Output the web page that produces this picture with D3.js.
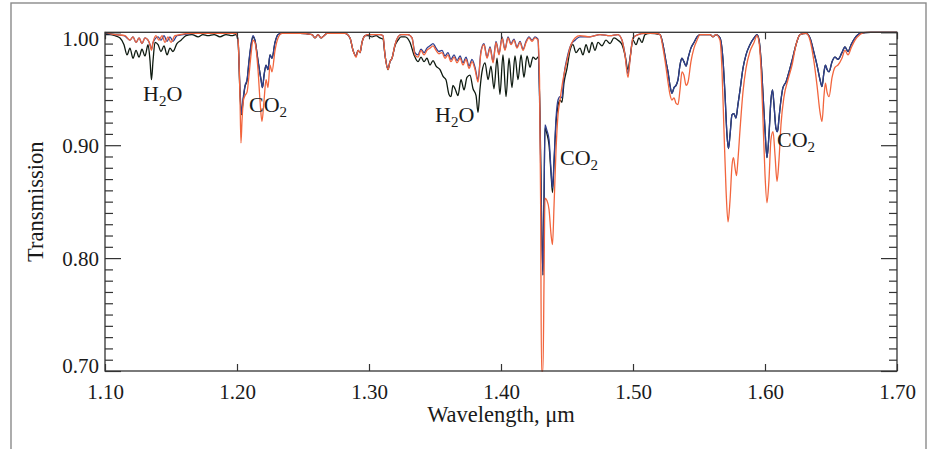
<!DOCTYPE html>
<html>
<head>
<meta charset="utf-8">
<script src="https://cdn.jsdelivr.net/npm/d3@7/dist/d3.min.js"></script>
<style>
  html, body { margin: 0; padding: 0; background: #fff; }
  svg { display: block; }
  text { font-family: "Liberation Serif", "Times New Roman", serif; fill: #1a1a1a; }
</style>
</head>
<body>
<svg id="chart" width="931" height="449"></svg>
<script>
// Transmission spectra, [wavelength (µm), transmission]
const blackSpectrum = [
  [1.1000,0.998],[1.1038,0.998],[1.1076,0.997],[1.1114,0.995],[1.1144,0.989],[1.1167,0.980],
  [1.1189,0.986],[1.1212,0.977],[1.1235,0.984],[1.1258,0.978],[1.1280,0.985],[1.1303,0.979],
  [1.1326,0.989],[1.1341,0.975],[1.1352,0.958],[1.1364,0.975],[1.1379,0.991],[1.1402,0.989],
  [1.1424,0.983],[1.1447,0.988],[1.1470,0.980],[1.1492,0.986],[1.1515,0.983],[1.1545,0.990],
  [1.1576,0.993],[1.1614,0.997],[1.1659,0.998],[1.1705,0.996],[1.1742,0.998],[1.1780,0.997],
  [1.1826,0.998],[1.1871,0.996],[1.1917,0.998],[1.1962,0.997],[1.1992,0.998],
  [1.2008,0.992],[1.2023,0.945],[1.2034,0.927],[1.2045,0.938],[1.2061,0.952],[1.2076,0.957],
  [1.2091,0.974],[1.2106,0.988],[1.2121,0.996],[1.2136,0.993],[1.2159,0.975],[1.2182,0.958],
  [1.2193,0.951],[1.2205,0.962],[1.2220,0.971],[1.2235,0.967],[1.2250,0.980],[1.2265,0.977],
  [1.2288,0.991],[1.2311,0.998],[1.2341,0.999],[1.2477,0.999],[1.2568,0.998],[1.2591,0.995],
  [1.2614,0.998],[1.2636,0.995],[1.2659,0.997],[1.2682,0.999],[1.2818,0.999],[1.2856,0.995],
  [1.2879,0.984],[1.2902,0.979],[1.2917,0.984],[1.2932,0.982],[1.2947,0.991],[1.2970,0.997],
  [1.2992,0.997],[1.3023,0.996],[1.3053,0.997],[1.3083,0.995],[1.3106,0.994],[1.3121,0.980],
  [1.3144,0.967],[1.3159,0.974],[1.3174,0.977],[1.3197,0.988],[1.3220,0.993],[1.3242,0.996],
  [1.3273,0.996],[1.3311,0.991],[1.3341,0.980],[1.3371,0.974],[1.3394,0.978],[1.3417,0.974],
  [1.3439,0.977],[1.3462,0.971],[1.3485,0.975],[1.3508,0.970],[1.3538,0.967],[1.3561,0.961],
  [1.3583,0.958],[1.3606,0.945],[1.3621,0.943],[1.3636,0.953],[1.3652,0.950],[1.3674,0.944],
  [1.3697,0.958],[1.3720,0.949],[1.3742,0.960],[1.3765,0.962],[1.3788,0.950],[1.3811,0.944],
  [1.3826,0.929],[1.3841,0.950],[1.3856,0.965],[1.3879,0.973],[1.3902,0.958],[1.3924,0.970],
  [1.3947,0.950],[1.3970,0.977],[1.3992,0.945],[1.4015,0.980],[1.4038,0.943],[1.4061,0.977],
  [1.4083,0.951],[1.4106,0.979],[1.4129,0.958],[1.4152,0.980],[1.4174,0.960],[1.4197,0.979],
  [1.4220,0.969],[1.4242,0.978],[1.4265,0.976],[1.4280,0.978],
  [1.4295,0.930],[1.4307,0.840],[1.4318,0.785],[1.4326,0.850],[1.4333,0.915],[1.4348,0.910],
  [1.4364,0.900],[1.4379,0.875],[1.4390,0.858],[1.4402,0.885],[1.4417,0.920],[1.4432,0.935],
  [1.4447,0.940],[1.4462,0.938],[1.4477,0.955],[1.4500,0.968],[1.4523,0.984],[1.4545,0.989],
  [1.4568,0.982],[1.4598,0.986],[1.4621,0.980],[1.4644,0.989],[1.4667,0.982],[1.4689,0.991],
  [1.4712,0.984],[1.4735,0.991],[1.4765,0.988],[1.4795,0.993],[1.4826,0.990],[1.4856,0.995],
  [1.4886,0.993],[1.4917,0.989],[1.4939,0.980],[1.4962,0.967],[1.4977,0.977],[1.5000,0.993],
  [1.5023,0.989],[1.5045,0.995],[1.5068,0.991],[1.5091,0.998],[1.5129,0.999],
  [1.5205,0.998],[1.5227,0.989],[1.5250,0.974],[1.5265,0.965],[1.5280,0.953],[1.5295,0.946],
  [1.5311,0.951],[1.5326,0.953],[1.5341,0.958],[1.5356,0.971],[1.5371,0.977],[1.5386,0.974],
  [1.5402,0.970],[1.5417,0.977],[1.5439,0.986],[1.5462,0.991],[1.5485,0.996],[1.5508,0.998],
  [1.5583,0.998],[1.5606,0.996],[1.5629,0.998],[1.5659,0.995],[1.5682,0.975],[1.5697,0.945],
  [1.5712,0.909],[1.5723,0.897],[1.5735,0.909],[1.5750,0.927],[1.5765,0.928],[1.5780,0.924],
  [1.5795,0.936],[1.5811,0.949],[1.5833,0.968],[1.5856,0.980],[1.5886,0.989],[1.5917,0.995],
  [1.5939,0.998],[1.5955,0.993],[1.5970,0.975],[1.5985,0.945],[1.6000,0.914],[1.6015,0.889],
  [1.6030,0.909],[1.6045,0.940],[1.6057,0.949],[1.6068,0.936],[1.6083,0.915],[1.6095,0.912],
  [1.6106,0.924],[1.6121,0.940],[1.6136,0.951],[1.6159,0.956],[1.6182,0.965],[1.6205,0.975],
  [1.6235,0.989],[1.6265,0.998],[1.6311,0.999],[1.6341,0.995],[1.6371,0.982],[1.6394,0.971],
  [1.6417,0.958],[1.6432,0.952],[1.6447,0.965],[1.6458,0.971],[1.6470,0.967],[1.6485,0.965],
  [1.6508,0.974],[1.6530,0.978],[1.6553,0.976],[1.6583,0.982],[1.6606,0.987],[1.6629,0.983],
  [1.6652,0.989],[1.6682,0.995],[1.6720,0.999],[1.6800,1.000],[1.7000,1.000]
];

const blueSpectrum = [
  [1.1000,0.999],[1.1076,0.998],[1.1144,0.997],[1.1189,0.993],[1.1212,0.996],[1.1235,0.991],
  [1.1258,0.995],[1.1280,0.990],[1.1303,0.995],[1.1326,0.993],[1.1341,0.989],[1.1352,0.985],
  [1.1364,0.991],[1.1402,0.996],[1.1424,0.993],[1.1447,0.997],[1.1470,0.992],[1.1492,0.996],
  [1.1515,0.992],[1.1545,0.997],[1.1591,0.998],[1.1700,0.999],[1.1992,0.999],
  [1.2008,0.993],[1.2023,0.949],[1.2034,0.928],[1.2045,0.940],[1.2061,0.953],[1.2076,0.958],
  [1.2091,0.975],[1.2106,0.989],[1.2121,0.997],[1.2136,0.993],[1.2159,0.975],[1.2182,0.958],
  [1.2193,0.951],[1.2205,0.962],[1.2220,0.971],[1.2235,0.967],[1.2250,0.980],[1.2265,0.977],
  [1.2288,0.991],[1.2311,0.998],[1.2341,0.999],[1.2477,0.999],[1.2568,0.998],[1.2591,0.995],
  [1.2614,0.998],[1.2636,0.995],[1.2659,0.997],[1.2682,0.999],[1.2818,0.999],[1.2856,0.995],
  [1.2879,0.984],[1.2902,0.979],[1.2917,0.984],[1.2932,0.982],[1.2947,0.991],[1.2970,0.997],
  [1.2992,0.998],[1.3083,0.998],[1.3106,0.997],[1.3121,0.980],[1.3144,0.968],[1.3159,0.974],
  [1.3174,0.977],[1.3197,0.989],[1.3220,0.996],[1.3242,0.998],[1.3295,0.998],[1.3326,0.995],
  [1.3348,0.982],[1.3371,0.980],[1.3394,0.985],[1.3417,0.982],[1.3439,0.986],[1.3462,0.988],
  [1.3485,0.990],[1.3508,0.986],[1.3530,0.983],[1.3553,0.984],[1.3576,0.979],[1.3598,0.982],
  [1.3621,0.976],[1.3644,0.980],[1.3667,0.975],[1.3690,0.979],[1.3712,0.973],[1.3735,0.978],
  [1.3758,0.970],[1.3780,0.976],[1.3803,0.969],[1.3826,0.958],[1.3848,0.983],[1.3871,0.990],
  [1.3894,0.978],[1.3917,0.987],[1.3940,0.974],[1.3962,0.992],[1.3985,0.981],[1.4008,0.996],
  [1.4030,0.985],[1.4053,0.996],[1.4076,0.990],[1.4098,0.994],[1.4121,0.987],[1.4144,0.992],
  [1.4167,0.985],[1.4190,0.992],[1.4212,0.996],[1.4235,0.993],[1.4258,0.996],[1.4280,0.994],
  [1.4295,0.922],[1.4307,0.834],[1.4318,0.785],[1.4326,0.852],[1.4333,0.918],[1.4348,0.913],
  [1.4364,0.905],[1.4379,0.878],[1.4390,0.862],[1.4402,0.887],[1.4417,0.924],[1.4432,0.940],
  [1.4447,0.943],[1.4462,0.942],[1.4477,0.962],[1.4500,0.977],[1.4530,0.989],[1.4561,0.993],
  [1.4598,0.996],[1.4674,0.996],[1.4750,0.998],[1.4826,0.997],[1.4886,0.998],[1.4917,0.993],
  [1.4939,0.981],[1.4962,0.963],[1.4977,0.976],[1.5000,0.995],[1.5038,0.998],[1.5091,0.999],
  [1.5167,0.999],[1.5205,0.998],[1.5227,0.989],[1.5250,0.974],[1.5265,0.965],[1.5280,0.953],
  [1.5295,0.946],[1.5311,0.951],[1.5326,0.953],[1.5341,0.958],[1.5356,0.971],[1.5371,0.977],
  [1.5386,0.974],[1.5402,0.970],[1.5417,0.977],[1.5439,0.986],[1.5462,0.991],[1.5485,0.996],
  [1.5508,0.998],[1.5583,0.998],[1.5606,0.996],[1.5629,0.998],[1.5659,0.995],[1.5682,0.975],
  [1.5697,0.945],[1.5712,0.909],[1.5723,0.897],[1.5735,0.909],[1.5750,0.927],[1.5765,0.928],
  [1.5780,0.924],[1.5795,0.936],[1.5811,0.949],[1.5833,0.968],[1.5856,0.980],[1.5886,0.989],
  [1.5917,0.995],[1.5939,0.998],[1.5955,0.993],[1.5970,0.975],[1.5985,0.945],[1.6000,0.914],
  [1.6015,0.889],[1.6030,0.909],[1.6045,0.940],[1.6057,0.949],[1.6068,0.936],[1.6083,0.915],
  [1.6095,0.912],[1.6106,0.924],[1.6121,0.940],[1.6136,0.951],[1.6159,0.956],[1.6182,0.965],
  [1.6205,0.975],[1.6235,0.989],[1.6265,0.998],[1.6311,0.999],[1.6341,0.995],[1.6371,0.982],
  [1.6394,0.971],[1.6417,0.958],[1.6432,0.952],[1.6447,0.965],[1.6458,0.971],[1.6470,0.967],
  [1.6485,0.965],[1.6508,0.974],[1.6530,0.978],[1.6553,0.976],[1.6583,0.982],[1.6606,0.987],
  [1.6629,0.983],[1.6652,0.989],[1.6682,0.995],[1.6720,0.999],[1.6800,1.000],[1.7000,1.000]
];

const orangeSpectrum = [
  [1.1000,1.000],[1.1076,0.998],[1.1152,0.997],[1.1189,0.993],[1.1212,0.996],[1.1235,0.991],
  [1.1258,0.995],[1.1280,0.990],[1.1303,0.995],[1.1326,0.993],[1.1341,0.989],[1.1352,0.984],
  [1.1364,0.991],[1.1386,0.997],[1.1409,0.993],[1.1432,0.997],[1.1455,0.991],[1.1477,0.996],
  [1.1500,0.991],[1.1530,0.997],[1.1568,0.998],[1.1650,0.999],[1.1992,0.999],
  [1.2008,0.993],[1.2023,0.940],[1.2030,0.902],[1.2038,0.922],[1.2049,0.940],[1.2061,0.944],
  [1.2076,0.947],[1.2091,0.962],[1.2106,0.980],[1.2121,0.993],[1.2136,0.991],[1.2159,0.967],
  [1.2174,0.940],[1.2189,0.921],[1.2205,0.940],[1.2220,0.958],[1.2235,0.951],[1.2250,0.971],
  [1.2265,0.965],[1.2288,0.984],[1.2311,0.995],[1.2341,0.999],[1.2477,0.999],[1.2568,0.998],
  [1.2591,0.995],[1.2614,0.998],[1.2636,0.995],[1.2659,0.997],[1.2682,0.999],[1.2818,0.999],
  [1.2856,0.995],[1.2879,0.984],[1.2902,0.978],[1.2917,0.984],[1.2932,0.982],[1.2947,0.991],
  [1.2970,0.997],[1.2992,0.998],[1.3083,0.998],[1.3106,0.997],[1.3121,0.980],[1.3144,0.967],
  [1.3159,0.974],[1.3174,0.977],[1.3197,0.989],[1.3220,0.996],[1.3242,0.998],[1.3295,0.998],
  [1.3326,0.995],[1.3348,0.980],[1.3371,0.978],[1.3394,0.984],[1.3417,0.980],[1.3439,0.984],
  [1.3462,0.986],[1.3485,0.988],[1.3508,0.984],[1.3530,0.981],[1.3553,0.982],[1.3576,0.977],
  [1.3598,0.980],[1.3621,0.974],[1.3644,0.978],[1.3667,0.973],[1.3690,0.977],[1.3712,0.971],
  [1.3735,0.976],[1.3758,0.968],[1.3780,0.974],[1.3803,0.967],[1.3826,0.956],[1.3848,0.982],
  [1.3871,0.989],[1.3894,0.977],[1.3917,0.986],[1.3940,0.973],[1.3962,0.991],[1.3985,0.980],
  [1.4008,0.995],[1.4030,0.984],[1.4053,0.995],[1.4076,0.989],[1.4098,0.993],[1.4121,0.986],
  [1.4144,0.991],[1.4167,0.984],[1.4190,0.991],[1.4212,0.995],[1.4235,0.992],[1.4258,0.995],
  [1.4280,0.993],[1.4292,0.958],[1.4300,0.852],[1.4307,0.700],[1.4318,0.700],[1.4326,0.781],
  [1.4333,0.853],[1.4348,0.851],[1.4364,0.843],[1.4379,0.821],[1.4390,0.812],[1.4402,0.847],
  [1.4417,0.896],[1.4432,0.927],[1.4447,0.940],[1.4470,0.958],[1.4500,0.975],[1.4530,0.989],
  [1.4561,0.995],[1.4598,0.997],[1.4674,0.996],[1.4750,0.998],[1.4826,0.997],[1.4886,0.998],
  [1.4917,0.993],[1.4939,0.980],[1.4962,0.960],[1.4977,0.975],[1.5000,0.995],[1.5038,0.998],
  [1.5091,0.999],[1.5167,0.999],[1.5205,0.998],[1.5227,0.986],[1.5250,0.969],[1.5265,0.956],
  [1.5280,0.945],[1.5295,0.940],[1.5311,0.942],[1.5326,0.937],[1.5341,0.936],[1.5356,0.949],
  [1.5371,0.965],[1.5386,0.962],[1.5402,0.953],[1.5417,0.956],[1.5439,0.974],[1.5462,0.986],
  [1.5485,0.993],[1.5508,0.998],[1.5583,0.998],[1.5606,0.996],[1.5629,0.998],[1.5659,0.993],
  [1.5674,0.967],[1.5689,0.914],[1.5705,0.860],[1.5720,0.832],[1.5735,0.851],[1.5750,0.882],
  [1.5761,0.889],[1.5773,0.880],[1.5784,0.873],[1.5795,0.887],[1.5811,0.914],[1.5833,0.947],
  [1.5856,0.968],[1.5886,0.983],[1.5917,0.991],[1.5939,0.997],[1.5955,0.991],[1.5970,0.967],
  [1.5985,0.922],[1.6000,0.874],[1.6015,0.849],[1.6030,0.869],[1.6045,0.905],[1.6061,0.912],
  [1.6076,0.891],[1.6091,0.868],[1.6106,0.887],[1.6121,0.918],[1.6144,0.943],[1.6174,0.958],
  [1.6205,0.971],[1.6235,0.989],[1.6265,0.998],[1.6311,0.999],[1.6341,0.993],[1.6371,0.974],
  [1.6394,0.953],[1.6417,0.929],[1.6432,0.921],[1.6447,0.944],[1.6458,0.955],[1.6470,0.947],
  [1.6485,0.943],[1.6508,0.960],[1.6530,0.969],[1.6553,0.971],[1.6583,0.977],[1.6606,0.984],
  [1.6629,0.980],[1.6652,0.986],[1.6682,0.993],[1.6720,0.998],[1.6758,1.000],[1.7000,1.000]
];

const xTickValues = [1.10, 1.20, 1.30, 1.40, 1.50, 1.60, 1.70];
const yMajorTicks = [0.70, 0.80, 0.90, 1.00];
const yMinorTicks = d3.range(71, 100).map(i => i / 100).filter(v => Math.round(v * 100) % 10 !== 0);

// Absorption band labels: species, subscript, anchor [wavelength, transmission]
const bandLabels = [
  { base: "H", sub: "2", tail: "O", at: [1.1288, 0.9392] },
  { base: "CO", sub: "2", tail: "", at: [1.2091, 0.9294] },
  { base: "H", sub: "2", tail: "O", at: [1.3500, 0.9206] },
  { base: "CO", sub: "2", tail: "", at: [1.4447, 0.8825] },
  { base: "CO", sub: "2", tail: "", at: [1.6091, 0.8984] }
];

const xLabel = "Wavelength, \u03bcm";
const yLabel = "Transmission";

// ---------- layout ----------
const svg = d3.select("#chart");
const plot = { left: 105, right: 897, top: 32.3, bottom: 371 };

const x = d3.scaleLinear().domain([1.10, 1.70]).range([plot.left, plot.right]);
const y = d3.scaleLinear().domain([0.70, 1.00]).range([plot.bottom, plot.top]);

// outer figure border
svg.append("rect")
  .attr("x", 11).attr("y", 3).attr("width", 915).attr("height", 470)
  .attr("fill", "none").attr("stroke", "#8a8a8a").attr("stroke-width", 1.4);

// ---------- spectra ----------
svg.append("clipPath").attr("id", "plotClip")
  .append("rect")
  .attr("x", plot.left).attr("y", plot.top - 2)
  .attr("width", plot.right - plot.left).attr("height", plot.bottom - plot.top + 3);

const line = d3.line()
  .x(d => x(d[0]))
  .y(d => y(d[1]))
  .curve(d3.curveMonotoneX);

const spectra = svg.append("g").attr("clip-path", "url(#plotClip)");
[
  { data: blackSpectrum, color: "#0e1a10" },
  { data: blueSpectrum, color: "#2f3f8f" },
  { data: orangeSpectrum, color: "#f2653d" }
].forEach(s => {
  spectra.append("path")
    .datum(s.data)
    .attr("d", line)
    .attr("fill", "none")
    .attr("stroke", s.color)
    .attr("stroke-width", 1.3)
    .attr("stroke-linejoin", "round");
});

// ---------- axes ----------
const axisColor = "#333";
function styleAxis(g) {
  g.select(".domain").remove();
  g.selectAll(".tick line").attr("stroke", axisColor).attr("stroke-width", 1.2);
  g.selectAll(".tick text")
    .attr("fill", "#1a1a1a")
    .style("font-family", "'Liberation Serif', 'Times New Roman', serif")
    .style("font-size", "21px");
}

// frame
svg.append("rect")
  .attr("x", plot.left).attr("y", plot.top)
  .attr("width", plot.right - plot.left).attr("height", plot.bottom - plot.top)
  .attr("fill", "none").attr("stroke", axisColor).attr("stroke-width", 1.3);

// left: minor + major
svg.append("g").attr("transform", `translate(${plot.left},0)`)
  .call(d3.axisLeft(y).tickValues(yMinorTicks).tickSize(-8).tickFormat(""))
  .call(styleAxis);
const yMajor = svg.append("g").attr("transform", `translate(${plot.left},0)`)
  .call(d3.axisLeft(y).tickValues(yMajorTicks).tickSize(-16).tickPadding(6).tickFormat(d3.format(".2f")))
  .call(styleAxis);
// keep the end labels inside the frame height
yMajor.selectAll(".tick").each(function (d) {
  const t = d3.select(this).select("text");
  if (d >= 0.999) t.attr("y", 6.5);
  else if (d <= 0.701) t.attr("y", -5);
  else t.attr("y", 0.8);
});

// right: minor + major, no labels
svg.append("g").attr("transform", `translate(${plot.right},0)`)
  .call(d3.axisRight(y).tickValues(yMinorTicks).tickSize(-8).tickFormat(""))
  .call(styleAxis);
svg.append("g").attr("transform", `translate(${plot.right},0)`)
  .call(d3.axisRight(y).tickValues(yMajorTicks).tickSize(-16).tickFormat(""))
  .call(styleAxis);

// bottom and top
svg.append("g").attr("transform", `translate(0,${plot.bottom})`)
  .call(d3.axisBottom(x).tickValues(xTickValues).tickSize(-7).tickPadding(13.5).tickFormat(d3.format(".2f")))
  .call(styleAxis);
svg.append("g").attr("transform", `translate(0,${plot.top})`)
  .call(d3.axisTop(x).tickValues(xTickValues).tickSize(-7).tickFormat(""))
  .call(styleAxis);

// axis titles
svg.append("text")
  .attr("x", (plot.left + plot.right) / 2).attr("y", 422)
  .attr("text-anchor", "middle")
  .style("font-size", "22.5px")
  .text(xLabel);

svg.append("text")
  .attr("transform", `translate(43,${(plot.top + plot.bottom) / 2}) rotate(-90)`)
  .attr("text-anchor", "middle")
  .style("font-size", "22.5px")
  .text(yLabel);

// ---------- band labels ----------
const labels = svg.append("g");
bandLabels.forEach(b => {
  const t = labels.append("text")
    .attr("x", x(b.at[0])).attr("y", y(b.at[1]))
    .style("font-size", "22px");
  t.append("tspan").text(b.base);
  t.append("tspan").attr("dy", 5).style("font-size", "15px").text(b.sub);
  if (b.tail) t.append("tspan").attr("dy", -5).text(b.tail);
});
</script>
</body>
</html>
